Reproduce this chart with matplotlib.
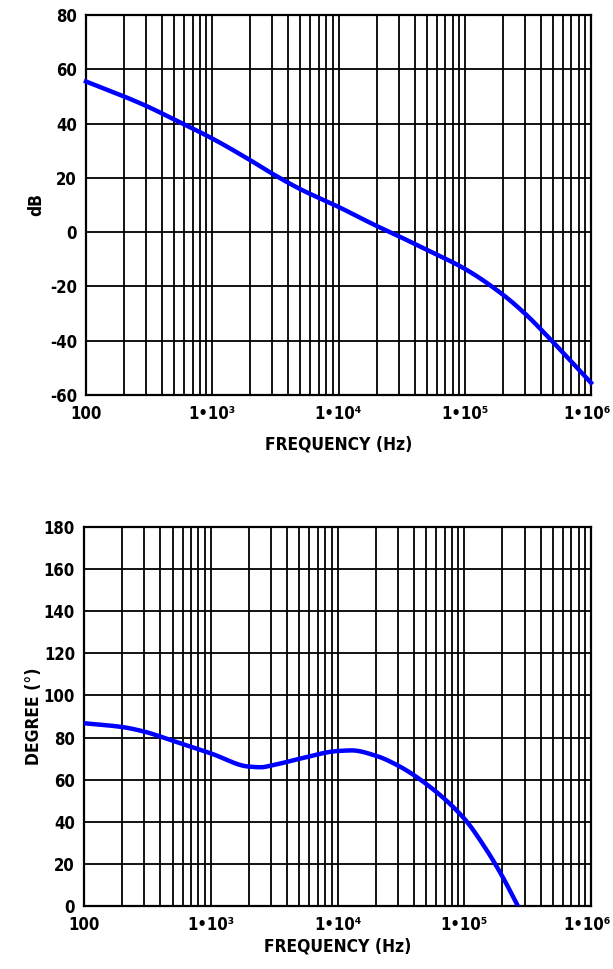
import numpy as np
import matplotlib
matplotlib.use('Agg')
import matplotlib.pyplot as plt
import matplotlib.transforms as mtransforms
from matplotlib.ticker import FixedLocator, NullFormatter

plt.rcParams['font.family'] = ['DejaVu Sans']
plt.rcParams['font.stretch'] = 'condensed'
plt.rcParams['font.weight'] = 'bold'
plt.rcParams['axes.unicode_minus'] = False

# gain curve (dB)
freq_gain = [100, 200, 300, 500, 1e3, 2e3, 3e3, 5e3, 1e4, 2e4, 3e4, 5e4,
             1e5, 2e5, 3e5, 5e5, 1e6]
gain_db = [55.5, 50.0, 46.5, 41.5, 34.5, 26.5, 21.5, 15.8, 9.3, 2.3, -1.5,
           -6.5, -13.5, -23.0, -30.0, -40.5, -55.5]

# phase curve (degrees)
freq_phase = [100, 200, 300, 500, 1e3, 2e3, 2.5e3, 3e3, 5e3, 1e4, 1.3e4, 2e4,
              3e4, 5e4, 1e5, 1.5e5, 2e5, 2.65e5]
phase_deg = [86.8, 85.0, 82.8, 78.5, 72.5, 66.2, 65.9, 66.7, 69.9, 73.6, 73.9,
             71.4, 66.7, 58.0, 41.5, 26.6, 14.0, 0.0]

major_x = [100, 1e3, 1e4, 1e5, 1e6]
major_x_labels = ['100', '1•10³', '1•10⁴', '1•10⁵', '1•10⁶']
gain_ticks = list(range(-60, 81, 20))
phase_ticks = list(range(0, 181, 20))

grid_x = [m * 10 ** d for d in range(2, 6) for m in range(1, 10)] + [1e6]


def smooth(xs, ys, n=400):
    # monotone cubic (PCHIP-like) through the read points, in log-x
    x = np.log10(xs)
    y = np.asarray(ys, dtype=float)
    t = np.linspace(x[0], x[-1], n)
    h = np.diff(x)
    d = np.diff(y) / h
    m = np.zeros_like(y)
    m[0], m[-1] = d[0], d[-1]
    for i in range(1, len(y) - 1):
        if d[i - 1] * d[i] <= 0:
            m[i] = 0
        else:
            w1 = 2 * h[i] + h[i - 1]
            w2 = h[i] + 2 * h[i - 1]
            m[i] = (w1 + w2) / (w1 / d[i - 1] + w2 / d[i])
    idx = np.clip(np.searchsorted(x, t) - 1, 0, len(x) - 2)
    hh = h[idx]
    s = (t - x[idx]) / hh
    h00 = 2 * s**3 - 3 * s**2 + 1
    h10 = s**3 - 2 * s**2 + s
    h01 = -2 * s**3 + 3 * s**2
    h11 = s**3 - s**2
    yy = h00 * y[idx] + h10 * hh * m[idx] + h01 * y[idx + 1] + h11 * hh * m[idx + 1]
    return 10 ** t, yy


def style_axes(fig, ax, yticks, ylabel, ylab_x, xlab_y):
    ax.set_xscale('log')
    ax.set_xlim(100, 1e6)
    ax.set_ylim(yticks[0], yticks[-1])
    ax.xaxis.set_major_locator(FixedLocator(major_x))
    ax.set_xticklabels(major_x_labels)
    ax.xaxis.set_minor_locator(FixedLocator(grid_x))
    ax.xaxis.set_minor_formatter(NullFormatter())
    ax.set_yticks(yticks)
    for x in grid_x:
        ax.axvline(x, color='black', lw=1.3, zorder=1)
    for y in yticks:
        ax.axhline(y, color='black', lw=1.3, zorder=1)
    ax.tick_params(which='both', length=0, labelsize=12)
    ax.tick_params(axis='y', pad=6.5)
    ax.tick_params(axis='x', pad=7)
    for sp in ax.spines.values():
        sp.set_linewidth(1.6)
    ax.set_xlabel('FREQUENCY (Hz)', fontsize=12.5, fontweight='bold', va='center')
    ax.set_ylabel(ylabel, fontsize=12.5, fontweight='bold', va='center')
    ax.xaxis.set_label_coords(0.5, xlab_y)
    ax.yaxis.set_label_coords(ylab_x, 0.5)
    # nudge the last x label so it stays inside the figure
    last = ax.get_xticklabels()[-1]
    last.set_transform(last.get_transform() +
                       mtransforms.ScaledTranslation(-4 / 100, 0, fig.dpi_scale_trans))


fig = plt.figure(figsize=(6.13, 9.69), dpi=100)
ax1 = fig.add_axes([86 / 613, 1 - 395 / 969, 505 / 613, 380 / 969])
ax2 = fig.add_axes([84 / 613, 1 - 906 / 969, 507 / 613, 379 / 969])

fx, fy = smooth(freq_gain, gain_db)
ax1.plot(fx, fy, color='#0000ff', lw=3.2, zorder=3, clip_on=False)
style_axes(fig, ax1, gain_ticks, 'dB', (36 - 86) / 505, -49 / 380)

px, py = smooth(freq_phase, phase_deg)
ax2.plot(px, py, color='#0000ff', lw=3.2, zorder=3)
style_axes(fig, ax2, phase_ticks, 'DEGREE (°)', (34 - 84) / 507, -41 / 379)

fig.savefig('out.png', dpi=100)
